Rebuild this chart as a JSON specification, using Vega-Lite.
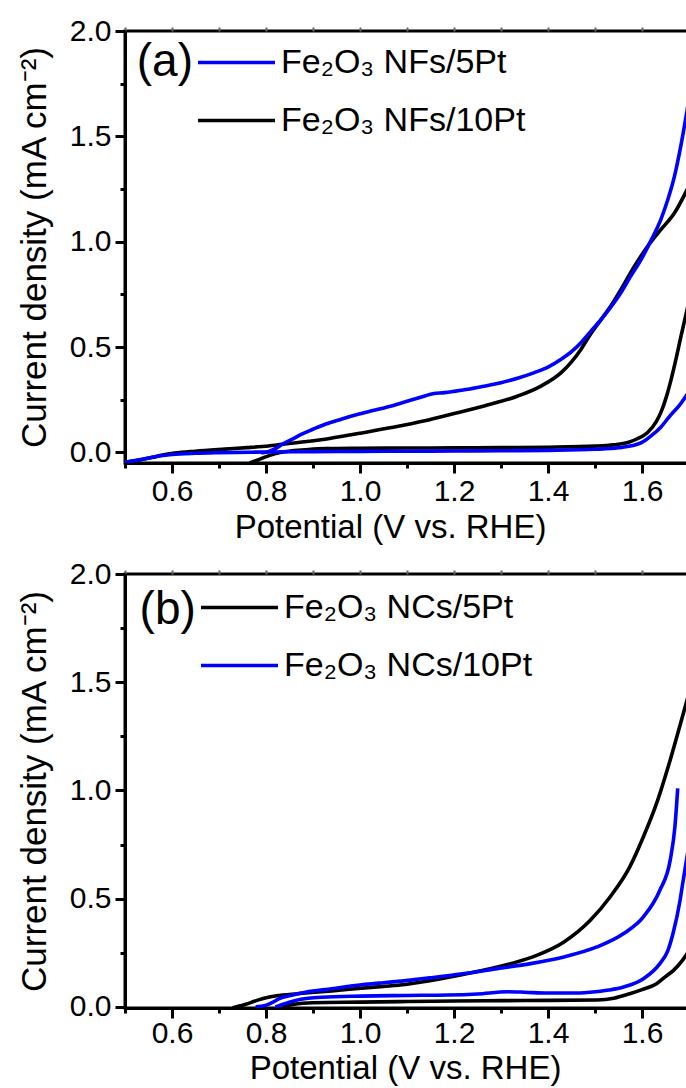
{
  "$schema": "https://vega.github.io/schema/vega-lite/v6.json",
  "autosize": {"type": "none"},
  "padding": {"left": 125, "top": 31, "right": 561, "bottom": 1057},
  "background": "white",
  "spacing": 111,
  "bounds": "flush",
  "resolve": {
    "scale": {"x": "independent", "y": "independent", "color": "independent"},
    "axis": {"x": "independent", "y": "independent"},
    "legend": {"color": "independent"}
  },
  "config": {
    "font": "Liberation Sans",
    "view": {"stroke": "black", "strokeWidth": 3},
    "axis": {
      "domainColor": "black",
      "domainWidth": 3,
      "ticks": true,
      "tickColor": "black",
      "tickWidth": 3,
      "grid": false,
      "labelFont": "Liberation Sans",
      "labelFontSize": 30,
      "labelColor": "black",
      "titleFont": "Liberation Sans",
      "titleFontSize": 33,
      "titleFontWeight": "normal",
      "titleColor": "black",
      "labelFlush": false,
      "labelOverlap": false
    },
    "legend": {
      "labelFont": "Liberation Sans",
      "labelFontSize": 34,
      "labelColor": "black",
      "labelLimit": 0
    }
  },
  "datasets": {
    "panelA": [
      {"series": "Fe₂O₃ NFs/10Pt", "branch": "aKL", "x": 0.765, "y": -0.05},
      {"series": "Fe₂O₃ NFs/10Pt", "branch": "aKL", "x": 0.78, "y": -0.038},
      {"series": "Fe₂O₃ NFs/10Pt", "branch": "aKL", "x": 0.805, "y": -0.016},
      {"series": "Fe₂O₃ NFs/10Pt", "branch": "aKL", "x": 0.83, "y": 0.0},
      {"series": "Fe₂O₃ NFs/10Pt", "branch": "aKL", "x": 0.855, "y": 0.008},
      {"series": "Fe₂O₃ NFs/10Pt", "branch": "aKL", "x": 0.89, "y": 0.014},
      {"series": "Fe₂O₃ NFs/10Pt", "branch": "aKL", "x": 0.926, "y": 0.018},
      {"series": "Fe₂O₃ NFs/10Pt", "branch": "aKL", "x": 1.0, "y": 0.02},
      {"series": "Fe₂O₃ NFs/10Pt", "branch": "aKL", "x": 1.1, "y": 0.021},
      {"series": "Fe₂O₃ NFs/10Pt", "branch": "aKL", "x": 1.2, "y": 0.022},
      {"series": "Fe₂O₃ NFs/10Pt", "branch": "aKL", "x": 1.3, "y": 0.023},
      {"series": "Fe₂O₃ NFs/10Pt", "branch": "aKL", "x": 1.4, "y": 0.025},
      {"series": "Fe₂O₃ NFs/10Pt", "branch": "aKL", "x": 1.5, "y": 0.03},
      {"series": "Fe₂O₃ NFs/10Pt", "branch": "aKL", "x": 1.54, "y": 0.036},
      {"series": "Fe₂O₃ NFs/10Pt", "branch": "aKL", "x": 1.57, "y": 0.047},
      {"series": "Fe₂O₃ NFs/10Pt", "branch": "aKL", "x": 1.59, "y": 0.065},
      {"series": "Fe₂O₃ NFs/10Pt", "branch": "aKL", "x": 1.612, "y": 0.095},
      {"series": "Fe₂O₃ NFs/10Pt", "branch": "aKL", "x": 1.63, "y": 0.145},
      {"series": "Fe₂O₃ NFs/10Pt", "branch": "aKL", "x": 1.64, "y": 0.189},
      {"series": "Fe₂O₃ NFs/10Pt", "branch": "aKL", "x": 1.652, "y": 0.265},
      {"series": "Fe₂O₃ NFs/10Pt", "branch": "aKL", "x": 1.662, "y": 0.347},
      {"series": "Fe₂O₃ NFs/10Pt", "branch": "aKL", "x": 1.673, "y": 0.45},
      {"series": "Fe₂O₃ NFs/10Pt", "branch": "aKL", "x": 1.683, "y": 0.552},
      {"series": "Fe₂O₃ NFs/10Pt", "branch": "aKL", "x": 1.696, "y": 0.679},
      {"series": "Fe₂O₃ NFs/10Pt", "branch": "aKL", "x": 1.7, "y": 0.72},
      {"series": "Fe₂O₃ NFs/10Pt", "branch": "aKU", "x": 0.5, "y": -0.047},
      {"series": "Fe₂O₃ NFs/10Pt", "branch": "aKU", "x": 0.53, "y": -0.036},
      {"series": "Fe₂O₃ NFs/10Pt", "branch": "aKU", "x": 0.557, "y": -0.024},
      {"series": "Fe₂O₃ NFs/10Pt", "branch": "aKU", "x": 0.58, "y": -0.012},
      {"series": "Fe₂O₃ NFs/10Pt", "branch": "aKU", "x": 0.606, "y": -0.003},
      {"series": "Fe₂O₃ NFs/10Pt", "branch": "aKU", "x": 0.65, "y": 0.006},
      {"series": "Fe₂O₃ NFs/10Pt", "branch": "aKU", "x": 0.713, "y": 0.016},
      {"series": "Fe₂O₃ NFs/10Pt", "branch": "aKU", "x": 0.76, "y": 0.023},
      {"series": "Fe₂O₃ NFs/10Pt", "branch": "aKU", "x": 0.805, "y": 0.031},
      {"series": "Fe₂O₃ NFs/10Pt", "branch": "aKU", "x": 0.855, "y": 0.044},
      {"series": "Fe₂O₃ NFs/10Pt", "branch": "aKU", "x": 0.926, "y": 0.063},
      {"series": "Fe₂O₃ NFs/10Pt", "branch": "aKU", "x": 0.996, "y": 0.09},
      {"series": "Fe₂O₃ NFs/10Pt", "branch": "aKU", "x": 1.067, "y": 0.118},
      {"series": "Fe₂O₃ NFs/10Pt", "branch": "aKU", "x": 1.138, "y": 0.15},
      {"series": "Fe₂O₃ NFs/10Pt", "branch": "aKU", "x": 1.194, "y": 0.181},
      {"series": "Fe₂O₃ NFs/10Pt", "branch": "aKU", "x": 1.264, "y": 0.221},
      {"series": "Fe₂O₃ NFs/10Pt", "branch": "aKU", "x": 1.336, "y": 0.268},
      {"series": "Fe₂O₃ NFs/10Pt", "branch": "aKU", "x": 1.385, "y": 0.315},
      {"series": "Fe₂O₃ NFs/10Pt", "branch": "aKU", "x": 1.428, "y": 0.379},
      {"series": "Fe₂O₃ NFs/10Pt", "branch": "aKU", "x": 1.45, "y": 0.43},
      {"series": "Fe₂O₃ NFs/10Pt", "branch": "aKU", "x": 1.47, "y": 0.489},
      {"series": "Fe₂O₃ NFs/10Pt", "branch": "aKU", "x": 1.49, "y": 0.56},
      {"series": "Fe₂O₃ NFs/10Pt", "branch": "aKU", "x": 1.513, "y": 0.631},
      {"series": "Fe₂O₃ NFs/10Pt", "branch": "aKU", "x": 1.535, "y": 0.7},
      {"series": "Fe₂O₃ NFs/10Pt", "branch": "aKU", "x": 1.555, "y": 0.773},
      {"series": "Fe₂O₃ NFs/10Pt", "branch": "aKU", "x": 1.584, "y": 0.884},
      {"series": "Fe₂O₃ NFs/10Pt", "branch": "aKU", "x": 1.612, "y": 0.978},
      {"series": "Fe₂O₃ NFs/10Pt", "branch": "aKU", "x": 1.64, "y": 1.057},
      {"series": "Fe₂O₃ NFs/10Pt", "branch": "aKU", "x": 1.669, "y": 1.136},
      {"series": "Fe₂O₃ NFs/10Pt", "branch": "aKU", "x": 1.696, "y": 1.247},
      {"series": "Fe₂O₃ NFs/10Pt", "branch": "aKU", "x": 1.7, "y": 1.265},
      {"series": "Fe₂O₃ NFs/5Pt", "branch": "aBL", "x": 0.5, "y": -0.047},
      {"series": "Fe₂O₃ NFs/5Pt", "branch": "aBL", "x": 0.53, "y": -0.035},
      {"series": "Fe₂O₃ NFs/5Pt", "branch": "aBL", "x": 0.56, "y": -0.022},
      {"series": "Fe₂O₃ NFs/5Pt", "branch": "aBL", "x": 0.6, "y": -0.01},
      {"series": "Fe₂O₃ NFs/5Pt", "branch": "aBL", "x": 0.65, "y": -0.004},
      {"series": "Fe₂O₃ NFs/5Pt", "branch": "aBL", "x": 0.7, "y": -0.001},
      {"series": "Fe₂O₃ NFs/5Pt", "branch": "aBL", "x": 0.8, "y": 0.002},
      {"series": "Fe₂O₃ NFs/5Pt", "branch": "aBL", "x": 0.9, "y": 0.004},
      {"series": "Fe₂O₃ NFs/5Pt", "branch": "aBL", "x": 1.0, "y": 0.005},
      {"series": "Fe₂O₃ NFs/5Pt", "branch": "aBL", "x": 1.1, "y": 0.006},
      {"series": "Fe₂O₃ NFs/5Pt", "branch": "aBL", "x": 1.2, "y": 0.007},
      {"series": "Fe₂O₃ NFs/5Pt", "branch": "aBL", "x": 1.3, "y": 0.008},
      {"series": "Fe₂O₃ NFs/5Pt", "branch": "aBL", "x": 1.4, "y": 0.01},
      {"series": "Fe₂O₃ NFs/5Pt", "branch": "aBL", "x": 1.5, "y": 0.015},
      {"series": "Fe₂O₃ NFs/5Pt", "branch": "aBL", "x": 1.55, "y": 0.022},
      {"series": "Fe₂O₃ NFs/5Pt", "branch": "aBL", "x": 1.58, "y": 0.033},
      {"series": "Fe₂O₃ NFs/5Pt", "branch": "aBL", "x": 1.6, "y": 0.048},
      {"series": "Fe₂O₃ NFs/5Pt", "branch": "aBL", "x": 1.62, "y": 0.08},
      {"series": "Fe₂O₃ NFs/5Pt", "branch": "aBL", "x": 1.64, "y": 0.12},
      {"series": "Fe₂O₃ NFs/5Pt", "branch": "aBL", "x": 1.66, "y": 0.175},
      {"series": "Fe₂O₃ NFs/5Pt", "branch": "aBL", "x": 1.68, "y": 0.225},
      {"series": "Fe₂O₃ NFs/5Pt", "branch": "aBL", "x": 1.7, "y": 0.29},
      {"series": "Fe₂O₃ NFs/5Pt", "branch": "aBU", "x": 0.79, "y": -0.003},
      {"series": "Fe₂O₃ NFs/5Pt", "branch": "aBU", "x": 0.805, "y": 0.004},
      {"series": "Fe₂O₃ NFs/5Pt", "branch": "aBU", "x": 0.82, "y": 0.018},
      {"series": "Fe₂O₃ NFs/5Pt", "branch": "aBU", "x": 0.835, "y": 0.039},
      {"series": "Fe₂O₃ NFs/5Pt", "branch": "aBU", "x": 0.855, "y": 0.062},
      {"series": "Fe₂O₃ NFs/5Pt", "branch": "aBU", "x": 0.876, "y": 0.087},
      {"series": "Fe₂O₃ NFs/5Pt", "branch": "aBU", "x": 0.9, "y": 0.11},
      {"series": "Fe₂O₃ NFs/5Pt", "branch": "aBU", "x": 0.926, "y": 0.134},
      {"series": "Fe₂O₃ NFs/5Pt", "branch": "aBU", "x": 0.96, "y": 0.158},
      {"series": "Fe₂O₃ NFs/5Pt", "branch": "aBU", "x": 0.996, "y": 0.181},
      {"series": "Fe₂O₃ NFs/5Pt", "branch": "aBU", "x": 1.03, "y": 0.2},
      {"series": "Fe₂O₃ NFs/5Pt", "branch": "aBU", "x": 1.067, "y": 0.221},
      {"series": "Fe₂O₃ NFs/5Pt", "branch": "aBU", "x": 1.1, "y": 0.243},
      {"series": "Fe₂O₃ NFs/5Pt", "branch": "aBU", "x": 1.138, "y": 0.268},
      {"series": "Fe₂O₃ NFs/5Pt", "branch": "aBU", "x": 1.155, "y": 0.279},
      {"series": "Fe₂O₃ NFs/5Pt", "branch": "aBU", "x": 1.18, "y": 0.284},
      {"series": "Fe₂O₃ NFs/5Pt", "branch": "aBU", "x": 1.2, "y": 0.29},
      {"series": "Fe₂O₃ NFs/5Pt", "branch": "aBU", "x": 1.229, "y": 0.3},
      {"series": "Fe₂O₃ NFs/5Pt", "branch": "aBU", "x": 1.26, "y": 0.313},
      {"series": "Fe₂O₃ NFs/5Pt", "branch": "aBU", "x": 1.3, "y": 0.331},
      {"series": "Fe₂O₃ NFs/5Pt", "branch": "aBU", "x": 1.335, "y": 0.352},
      {"series": "Fe₂O₃ NFs/5Pt", "branch": "aBU", "x": 1.371, "y": 0.379},
      {"series": "Fe₂O₃ NFs/5Pt", "branch": "aBU", "x": 1.4, "y": 0.405},
      {"series": "Fe₂O₃ NFs/5Pt", "branch": "aBU", "x": 1.428, "y": 0.442},
      {"series": "Fe₂O₃ NFs/5Pt", "branch": "aBU", "x": 1.45, "y": 0.478},
      {"series": "Fe₂O₃ NFs/5Pt", "branch": "aBU", "x": 1.47, "y": 0.521},
      {"series": "Fe₂O₃ NFs/5Pt", "branch": "aBU", "x": 1.49, "y": 0.572},
      {"series": "Fe₂O₃ NFs/5Pt", "branch": "aBU", "x": 1.513, "y": 0.631},
      {"series": "Fe₂O₃ NFs/5Pt", "branch": "aBU", "x": 1.535, "y": 0.694},
      {"series": "Fe₂O₃ NFs/5Pt", "branch": "aBU", "x": 1.555, "y": 0.758},
      {"series": "Fe₂O₃ NFs/5Pt", "branch": "aBU", "x": 1.575, "y": 0.833},
      {"series": "Fe₂O₃ NFs/5Pt", "branch": "aBU", "x": 1.598, "y": 0.915},
      {"series": "Fe₂O₃ NFs/5Pt", "branch": "aBU", "x": 1.62, "y": 1.01},
      {"series": "Fe₂O₃ NFs/5Pt", "branch": "aBU", "x": 1.64, "y": 1.105},
      {"series": "Fe₂O₃ NFs/5Pt", "branch": "aBU", "x": 1.655, "y": 1.2},
      {"series": "Fe₂O₃ NFs/5Pt", "branch": "aBU", "x": 1.669, "y": 1.31},
      {"series": "Fe₂O₃ NFs/5Pt", "branch": "aBU", "x": 1.683, "y": 1.46},
      {"series": "Fe₂O₃ NFs/5Pt", "branch": "aBU", "x": 1.696, "y": 1.625},
      {"series": "Fe₂O₃ NFs/5Pt", "branch": "aBU", "x": 1.7, "y": 1.68}
    ],
    "panelB": [
      {"series": "Fe₂O₃ NCs/5Pt", "branch": "bKU", "x": 0.729, "y": -0.004},
      {"series": "Fe₂O₃ NCs/5Pt", "branch": "bKU", "x": 0.745, "y": 0.005},
      {"series": "Fe₂O₃ NCs/5Pt", "branch": "bKU", "x": 0.757, "y": 0.012},
      {"series": "Fe₂O₃ NCs/5Pt", "branch": "bKU", "x": 0.775, "y": 0.026},
      {"series": "Fe₂O₃ NCs/5Pt", "branch": "bKU", "x": 0.792, "y": 0.038},
      {"series": "Fe₂O₃ NCs/5Pt", "branch": "bKU", "x": 0.81, "y": 0.047},
      {"series": "Fe₂O₃ NCs/5Pt", "branch": "bKU", "x": 0.828, "y": 0.053},
      {"series": "Fe₂O₃ NCs/5Pt", "branch": "bKU", "x": 0.884, "y": 0.064},
      {"series": "Fe₂O₃ NCs/5Pt", "branch": "bKU", "x": 0.94, "y": 0.074},
      {"series": "Fe₂O₃ NCs/5Pt", "branch": "bKU", "x": 0.99, "y": 0.084},
      {"series": "Fe₂O₃ NCs/5Pt", "branch": "bKU", "x": 1.05, "y": 0.095},
      {"series": "Fe₂O₃ NCs/5Pt", "branch": "bKU", "x": 1.081, "y": 0.1},
      {"series": "Fe₂O₃ NCs/5Pt", "branch": "bKU", "x": 1.131, "y": 0.115},
      {"series": "Fe₂O₃ NCs/5Pt", "branch": "bKU", "x": 1.186, "y": 0.136},
      {"series": "Fe₂O₃ NCs/5Pt", "branch": "bKU", "x": 1.257, "y": 0.167},
      {"series": "Fe₂O₃ NCs/5Pt", "branch": "bKU", "x": 1.321, "y": 0.2},
      {"series": "Fe₂O₃ NCs/5Pt", "branch": "bKU", "x": 1.376, "y": 0.238},
      {"series": "Fe₂O₃ NCs/5Pt", "branch": "bKU", "x": 1.434, "y": 0.3},
      {"series": "Fe₂O₃ NCs/5Pt", "branch": "bKU", "x": 1.49, "y": 0.4},
      {"series": "Fe₂O₃ NCs/5Pt", "branch": "bKU", "x": 1.532, "y": 0.508},
      {"series": "Fe₂O₃ NCs/5Pt", "branch": "bKU", "x": 1.574, "y": 0.647},
      {"series": "Fe₂O₃ NCs/5Pt", "branch": "bKU", "x": 1.603, "y": 0.786},
      {"series": "Fe₂O₃ NCs/5Pt", "branch": "bKU", "x": 1.631, "y": 0.94},
      {"series": "Fe₂O₃ NCs/5Pt", "branch": "bKU", "x": 1.66, "y": 1.141},
      {"series": "Fe₂O₃ NCs/5Pt", "branch": "bKU", "x": 1.686, "y": 1.341},
      {"series": "Fe₂O₃ NCs/5Pt", "branch": "bKU", "x": 1.7, "y": 1.45},
      {"series": "Fe₂O₃ NCs/5Pt", "branch": "bKL", "x": 0.835, "y": 0.0},
      {"series": "Fe₂O₃ NCs/5Pt", "branch": "bKL", "x": 0.86, "y": 0.012},
      {"series": "Fe₂O₃ NCs/5Pt", "branch": "bKL", "x": 0.9, "y": 0.019},
      {"series": "Fe₂O₃ NCs/5Pt", "branch": "bKL", "x": 1.0, "y": 0.022},
      {"series": "Fe₂O₃ NCs/5Pt", "branch": "bKL", "x": 1.1, "y": 0.025},
      {"series": "Fe₂O₃ NCs/5Pt", "branch": "bKL", "x": 1.2, "y": 0.027},
      {"series": "Fe₂O₃ NCs/5Pt", "branch": "bKL", "x": 1.3, "y": 0.029},
      {"series": "Fe₂O₃ NCs/5Pt", "branch": "bKL", "x": 1.4, "y": 0.03},
      {"series": "Fe₂O₃ NCs/5Pt", "branch": "bKL", "x": 1.504, "y": 0.032},
      {"series": "Fe₂O₃ NCs/5Pt", "branch": "bKL", "x": 1.54, "y": 0.04},
      {"series": "Fe₂O₃ NCs/5Pt", "branch": "bKL", "x": 1.574, "y": 0.061},
      {"series": "Fe₂O₃ NCs/5Pt", "branch": "bKL", "x": 1.6, "y": 0.08},
      {"series": "Fe₂O₃ NCs/5Pt", "branch": "bKL", "x": 1.631, "y": 0.107},
      {"series": "Fe₂O₃ NCs/5Pt", "branch": "bKL", "x": 1.65, "y": 0.14},
      {"series": "Fe₂O₃ NCs/5Pt", "branch": "bKL", "x": 1.667, "y": 0.169},
      {"series": "Fe₂O₃ NCs/5Pt", "branch": "bKL", "x": 1.686, "y": 0.215},
      {"series": "Fe₂O₃ NCs/5Pt", "branch": "bKL", "x": 1.7, "y": 0.26},
      {"series": "Fe₂O₃ NCs/10Pt", "branch": "bBU", "x": 0.778, "y": 0.0},
      {"series": "Fe₂O₃ NCs/10Pt", "branch": "bBU", "x": 0.799, "y": 0.007},
      {"series": "Fe₂O₃ NCs/10Pt", "branch": "bBU", "x": 0.815, "y": 0.022},
      {"series": "Fe₂O₃ NCs/10Pt", "branch": "bBU", "x": 0.828, "y": 0.038},
      {"series": "Fe₂O₃ NCs/10Pt", "branch": "bBU", "x": 0.855, "y": 0.054},
      {"series": "Fe₂O₃ NCs/10Pt", "branch": "bBU", "x": 0.884, "y": 0.068},
      {"series": "Fe₂O₃ NCs/10Pt", "branch": "bBU", "x": 0.94, "y": 0.084},
      {"series": "Fe₂O₃ NCs/10Pt", "branch": "bBU", "x": 0.99, "y": 0.099},
      {"series": "Fe₂O₃ NCs/10Pt", "branch": "bBU", "x": 1.05, "y": 0.112},
      {"series": "Fe₂O₃ NCs/10Pt", "branch": "bBU", "x": 1.081, "y": 0.118},
      {"series": "Fe₂O₃ NCs/10Pt", "branch": "bBU", "x": 1.131, "y": 0.13},
      {"series": "Fe₂O₃ NCs/10Pt", "branch": "bBU", "x": 1.151, "y": 0.135},
      {"series": "Fe₂O₃ NCs/10Pt", "branch": "bBU", "x": 1.222, "y": 0.154},
      {"series": "Fe₂O₃ NCs/10Pt", "branch": "bBU", "x": 1.292, "y": 0.177},
      {"series": "Fe₂O₃ NCs/10Pt", "branch": "bBU", "x": 1.363, "y": 0.2},
      {"series": "Fe₂O₃ NCs/10Pt", "branch": "bBU", "x": 1.434, "y": 0.231},
      {"series": "Fe₂O₃ NCs/10Pt", "branch": "bBU", "x": 1.504, "y": 0.277},
      {"series": "Fe₂O₃ NCs/10Pt", "branch": "bBU", "x": 1.561, "y": 0.339},
      {"series": "Fe₂O₃ NCs/10Pt", "branch": "bBU", "x": 1.603, "y": 0.416},
      {"series": "Fe₂O₃ NCs/10Pt", "branch": "bBU", "x": 1.638, "y": 0.539},
      {"series": "Fe₂O₃ NCs/10Pt", "branch": "bBU", "x": 1.66, "y": 0.678},
      {"series": "Fe₂O₃ NCs/10Pt", "branch": "bBU", "x": 1.67, "y": 0.832},
      {"series": "Fe₂O₃ NCs/10Pt", "branch": "bBU", "x": 1.676, "y": 1.01},
      {"series": "Fe₂O₃ NCs/10Pt", "branch": "bBL", "x": 0.82, "y": 0.0},
      {"series": "Fe₂O₃ NCs/10Pt", "branch": "bBL", "x": 0.845, "y": 0.018},
      {"series": "Fe₂O₃ NCs/10Pt", "branch": "bBL", "x": 0.863, "y": 0.03},
      {"series": "Fe₂O₃ NCs/10Pt", "branch": "bBL", "x": 0.89, "y": 0.04},
      {"series": "Fe₂O₃ NCs/10Pt", "branch": "bBL", "x": 0.919, "y": 0.045},
      {"series": "Fe₂O₃ NCs/10Pt", "branch": "bBL", "x": 1.0, "y": 0.05},
      {"series": "Fe₂O₃ NCs/10Pt", "branch": "bBL", "x": 1.1, "y": 0.053},
      {"series": "Fe₂O₃ NCs/10Pt", "branch": "bBL", "x": 1.186, "y": 0.055},
      {"series": "Fe₂O₃ NCs/10Pt", "branch": "bBL", "x": 1.25, "y": 0.06},
      {"series": "Fe₂O₃ NCs/10Pt", "branch": "bBL", "x": 1.314, "y": 0.07},
      {"series": "Fe₂O₃ NCs/10Pt", "branch": "bBL", "x": 1.35, "y": 0.068},
      {"series": "Fe₂O₃ NCs/10Pt", "branch": "bBL", "x": 1.398, "y": 0.064},
      {"series": "Fe₂O₃ NCs/10Pt", "branch": "bBL", "x": 1.45, "y": 0.064},
      {"series": "Fe₂O₃ NCs/10Pt", "branch": "bBL", "x": 1.489, "y": 0.068},
      {"series": "Fe₂O₃ NCs/10Pt", "branch": "bBL", "x": 1.53, "y": 0.078},
      {"series": "Fe₂O₃ NCs/10Pt", "branch": "bBL", "x": 1.561, "y": 0.092},
      {"series": "Fe₂O₃ NCs/10Pt", "branch": "bBL", "x": 1.603, "y": 0.13},
      {"series": "Fe₂O₃ NCs/10Pt", "branch": "bBL", "x": 1.638, "y": 0.2},
      {"series": "Fe₂O₃ NCs/10Pt", "branch": "bBL", "x": 1.655, "y": 0.26},
      {"series": "Fe₂O₃ NCs/10Pt", "branch": "bBL", "x": 1.666, "y": 0.339},
      {"series": "Fe₂O₃ NCs/10Pt", "branch": "bBL", "x": 1.681, "y": 0.493},
      {"series": "Fe₂O₃ NCs/10Pt", "branch": "bBL", "x": 1.686, "y": 0.562},
      {"series": "Fe₂O₃ NCs/10Pt", "branch": "bBL", "x": 1.7, "y": 0.75}
    ],
    "labelA": [{"label": "(a)", "x": 0.525, "y": 1.853}],
    "labelB": [{"label": "(b)", "x": 0.531, "y": 1.833}]
  },
  "vconcat": [
    {
      "width": 564,
      "height": 432,
      "resolve": {"axis": {"x": "independent", "y": "independent"}},
      "layer": [
        {
          "data": {"name": "panelA"},
          "mark": {"type": "line", "strokeWidth": 3.6, "clip": true, "interpolate": "monotone"},
          "encoding": {
            "x": {
              "field": "x", "type": "quantitative",
              "scale": {"domain": [0.5, 1.7], "nice": false, "zero": false},
              "axis": {
                "orient": "bottom",
                "title": "Potential (V vs. RHE)",
                "values": [0.6, 0.8, 1.0, 1.2, 1.4, 1.6],
                "format": ".1f",
                "tickSize": 10,
                "labelPadding": 3,
                "titlePadding": 5,
                "titleX": 265
              }
            },
            "y": {
              "field": "y", "type": "quantitative",
              "scale": {"domain": [-0.05, 2.0], "nice": false, "zero": false},
              "axis": {
                "orient": "left",
                "title": "Current density (mA cm⁻²)",
                "titleFontSize": 35,
                "values": [0, 0.5, 1, 1.5, 2],
                "format": ".1f",
                "tickSize": 10,
                "labelPadding": 4,
                "titlePadding": 17
              }
            },
            "color": {
              "field": "series", "type": "nominal",
              "scale": {"domain": ["Fe₂O₃ NFs/5Pt", "Fe₂O₃ NFs/10Pt"], "range": ["#0000ff", "#000000"]},
              "legend": {
                "orient": "none", "legendX": 71, "legendY": -9, "title": null,
                "symbolType": "stroke", "symbolSize": 5929, "symbolStrokeWidth": 3.6,
                "labelOffset": 4, "rowPadding": -5, "padding": 0
              }
            },
            "detail": {"field": "branch"}
          }
        },
        {
          "data": {"name": "labelA"},
          "mark": {"type": "text", "align": "left", "baseline": "middle", "fontSize": 46, "font": "Liberation Sans", "color": "black"},
          "encoding": {
            "x": {
              "field": "x", "type": "quantitative",
              "axis": {"orient": "bottom", "values": [0.5, 0.7, 0.9, 1.1, 1.3, 1.5, 1.7], "labels": false, "domain": false, "title": null, "tickSize": 5}
            },
            "y": {
              "field": "y", "type": "quantitative",
              "axis": {"orient": "left", "values": [0.25, 0.75, 1.25, 1.75], "labels": false, "domain": false, "title": null, "tickSize": 5}
            },
            "text": {"field": "label"}
          }
        },
        {
          "data": {"name": "labelA"},
          "mark": {"type": "point", "opacity": 0},
          "encoding": {
            "x": {
              "field": "x", "type": "quantitative",
              "axis": {"orient": "top", "values": [0.5, 0.6, 0.7, 0.8, 0.9, 1.0, 1.1, 1.2, 1.3, 1.4, 1.5, 1.6, 1.7], "labels": false, "domain": false, "title": null, "tickSize": 4, "tickWidth": 2, "tickColor": "#666666"}
            },
            "y": {"field": "y", "type": "quantitative", "axis": null}
          }
        }
      ]
    },
    {
      "width": 564,
      "height": 434,
      "resolve": {"axis": {"x": "independent", "y": "independent"}},
      "layer": [
        {
          "data": {"name": "panelB"},
          "mark": {"type": "line", "strokeWidth": 3.6, "clip": true, "interpolate": "monotone"},
          "encoding": {
            "x": {
              "field": "x", "type": "quantitative",
              "scale": {"domain": [0.5, 1.7], "nice": false, "zero": false},
              "axis": {
                "orient": "bottom",
                "title": "Potential (V vs. RHE)",
                "values": [0.6, 0.8, 1.0, 1.2, 1.4, 1.6],
                "format": ".1f",
                "tickSize": 10,
                "labelPadding": 0,
                "titlePadding": 4,
                "titleX": 280
              }
            },
            "y": {
              "field": "y", "type": "quantitative",
              "scale": {"domain": [-0.005, 2.0], "nice": false, "zero": false},
              "axis": {
                "orient": "left",
                "title": "Current density (mA cm⁻²)",
                "titleFontSize": 35,
                "values": [0, 0.5, 1, 1.5, 2],
                "format": ".1f",
                "tickSize": 10,
                "labelPadding": 4,
                "titlePadding": 17
              }
            },
            "color": {
              "field": "series", "type": "nominal",
              "scale": {"domain": ["Fe₂O₃ NCs/5Pt", "Fe₂O₃ NCs/10Pt"], "range": ["#000000", "#0000ff"]},
              "legend": {
                "orient": "none", "legendX": 74, "legendY": -7, "title": null,
                "symbolType": "stroke", "symbolSize": 5929, "symbolStrokeWidth": 3.6,
                "labelOffset": 4, "rowPadding": -4, "padding": 0
              }
            },
            "detail": {"field": "branch"}
          }
        },
        {
          "data": {"name": "labelB"},
          "mark": {"type": "text", "align": "left", "baseline": "middle", "fontSize": 46, "font": "Liberation Sans", "color": "black"},
          "encoding": {
            "x": {
              "field": "x", "type": "quantitative",
              "axis": {"orient": "bottom", "values": [0.5, 0.7, 0.9, 1.1, 1.3, 1.5, 1.7], "labels": false, "domain": false, "title": null, "tickSize": 5}
            },
            "y": {
              "field": "y", "type": "quantitative",
              "axis": {"orient": "left", "values": [0.25, 0.75, 1.25, 1.75], "labels": false, "domain": false, "title": null, "tickSize": 5}
            },
            "text": {"field": "label"}
          }
        },
        {
          "data": {"name": "labelB"},
          "mark": {"type": "point", "opacity": 0},
          "encoding": {
            "x": {
              "field": "x", "type": "quantitative",
              "axis": {"orient": "top", "values": [0.5, 0.6, 0.7, 0.8, 0.9, 1.0, 1.1, 1.2, 1.3, 1.4, 1.5, 1.6, 1.7], "labels": false, "domain": false, "title": null, "tickSize": 4, "tickWidth": 2, "tickColor": "#666666"}
            },
            "y": {"field": "y", "type": "quantitative", "axis": null}
          }
        }
      ]
    }
  ]
}
